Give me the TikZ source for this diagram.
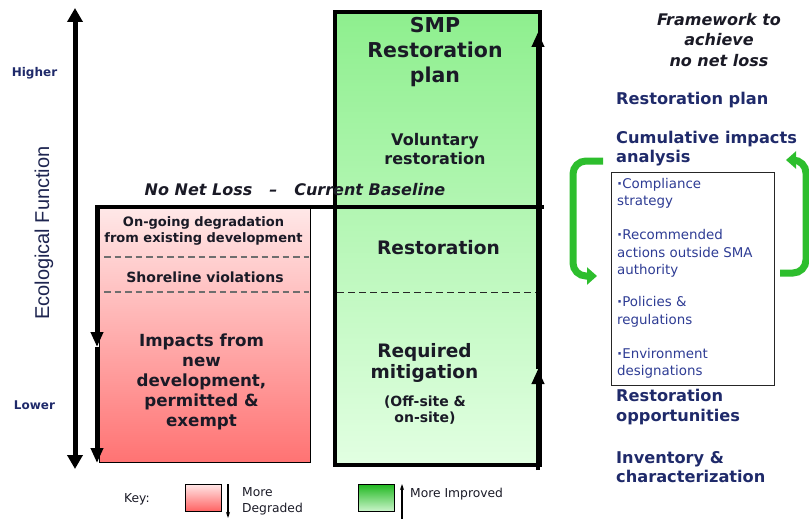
\documentclass[tikz,border=0pt]{standalone}
\usepackage{fontspec}
\setmainfont{DejaVu Sans}
\newfontfamily\axisfont{Liberation Sans}
\usetikzlibrary{arrows.meta}

\definecolor{ink}{HTML}{1A1A26}
\definecolor{navy}{HTML}{1F2A6A}
\definecolor{axisnavy}{HTML}{1E2550}
\definecolor{listblue}{HTML}{2E3C94}
\definecolor{loopgreen}{HTML}{2DBE2D}
\definecolor{dashgrey}{HTML}{6E6E6E}

\newcommand{\fs}[2]{\fontsize{#1}{#2}\selectfont}

\begin{document}
\begin{tikzpicture}[x=1pt,y=-1pt,
  boldtxt/.style={text=ink, font=\bfseries, align=center, inner sep=0pt},
  sidetxt/.style={text=navy, font=\bfseries\fs{16.2}{19.6}, align=left, anchor=west, inner sep=0pt},
  listtxt/.style={text=listblue, font=\fs{13.4}{17.5}, align=left, anchor=west, inner sep=0pt},
  keytxt/.style={text=ink, font=\fs{12.3}{16.5}, align=left, anchor=west, inner sep=0pt},
  heavy/.style={line width=4.6pt, black},
  edgetip/.style={-{Triangle[width=12pt,length=15pt]}},
  keytip/.style={-{Stealth[width=4pt,length=6pt]}},
  looparrow/.style={line width=7pt, loopgreen, rounded corners=13pt,
    -{Triangle[width=17pt,length=10pt]}},
  swatch/.style={draw=black, line width=0.9pt, minimum width=36pt, minimum height=27pt,
    anchor=north west, inner sep=0pt},
]
\useasboundingbox (0,0) rectangle (809,519);

% ---- degraded (red) column ----
\node[draw=black, line width=0.8pt, anchor=north west, inner sep=0pt,
      minimum width=211pt, minimum height=255pt,
      top color=red!9, middle color=red!28, bottom color=red!55!white]
      (redbox) at (99,207) {};
\draw[dashgrey, line width=1.1pt, dash pattern=on 6.5pt off 4pt]
  ([xshift=5pt]redbox.west |- 0,257) -- ([xshift=-2pt]redbox.east |- 0,257);
\draw[dashgrey, line width=1.1pt, dash pattern=on 6.5pt off 4pt]
  ([xshift=5pt]redbox.west |- 0,292) -- ([xshift=-2pt]redbox.east |- 0,292);

% ---- improved (green) column ----
\node[draw=black, line width=4.4pt, anchor=north west, inner sep=0pt,
      minimum width=205pt, minimum height=453pt,
      top color={rgb,255:red,142;green,239;blue,142},
      middle color={rgb,255:red,184;green,248;blue,184},
      bottom color={rgb,255:red,226;green,255;blue,226}]
      (greenbox) at (333,10) {};
\draw[black!85, line width=1pt, dash pattern=on 7pt off 4pt]
  ([xshift=4pt]greenbox.west |- 0,292) -- ([xshift=-6pt]greenbox.east |- 0,292);

% ---- baseline and edge arrows ----
\coordinate (baseL) at (redbox.north west);
\coordinate (baseR) at (greenbox.east |- redbox.north);
\draw[heavy] ([xshift=-2.3pt]baseL) -- ([xshift=2pt]baseR);

\coordinate (redmid) at (97,347);
\coordinate (redbot) at (97,463);
\draw[heavy, edgetip] (97,205) -- (redmid);
\draw[heavy, edgetip] (redmid) -- (redbot);

\coordinate (grnbot) at (538,470);
\coordinate (grnmid) at (538,369);
\coordinate (grntop) at (538,32);
\draw[heavy, edgetip] (grnbot) -- (grnmid);
\draw[heavy, edgetip] (grnmid) -- (grntop);

% ---- ecological function axis ----
\coordinate (axtop) at (75,8);
\coordinate (axbot) at (75,469);
\draw[line width=5pt, {Triangle[width=15pt,length=14pt]}-{Triangle[width=15pt,length=14pt]}]
  (axbot) -- (axtop);
\node[text=navy, font=\bfseries\fs{12}{14}, inner sep=0pt] (higher) at (34.5,73) {Higher};
\node[text=navy, font=\bfseries\fs{12}{14}, inner sep=0pt] (lower) at (34.5,405) {Lower};
\node[text=axisnavy, font=\axisfont\fs{20}{24}, rotate=90, inner sep=0pt] (axlabel) at (44,233)
  {Ecological Function};

% ---- column texts ----
\node[boldtxt, font=\bfseries\fs{13}{15.5}] (ongoing) at (203.5,231)
  {On-going degradation\\from existing development};
\node[boldtxt, font=\bfseries\fs{14}{16}] (violations) at (205,277) {Shoreline violations};
\node[boldtxt, font=\bfseries\fs{16.7}{20}] (impacts) at (201.5,382)
  {Impacts from\\new\\development,\\permitted \&\\exempt};

\node[boldtxt, font=\bfseries\fs{20.5}{25}] (smp) at (435,52) {SMP\\Restoration\\plan};
\node[boldtxt, font=\bfseries\fs{16}{18.5}] (voluntary) at (435,149) {Voluntary\\restoration};
\node[boldtxt, font=\bfseries\fs{18.6}{22}] (restoration) at (438.5,248) {Restoration};
\node[boldtxt, font=\bfseries\fs{18.5}{21.5}] (required) at (424.5,363) {Required\\mitigation};
\node[boldtxt, font=\bfseries\fs{14}{16.5}] (offsite) at (425,410) {(Off-site \&\\on-site)};

\node[boldtxt, font=\bfseries\itshape\fs{16}{18}] (nnl) at (295,190)
  {No Net Loss\hspace{17pt}–\hspace{17pt}Current Baseline};

% ---- framework column ----
\node[boldtxt, font=\bfseries\itshape\fs{16}{20.2}] (framework) at (719,40)
  {Framework to\\achieve\\no net loss};
\node[sidetxt] (restplan) at (616,100) {Restoration plan};
\node[sidetxt] (cumulative) at (616,148.5) {Cumulative impacts\\analysis};

\node[draw=black!85, line width=1pt, anchor=north west, inner sep=0pt,
      minimum width=163pt, minimum height=213pt] (listbox) at (611,172) {};
\node[listtxt] (compliance) at (617,193.5) {\textbf{·}Compliance\\strategy};
\node[listtxt] (recommended) at (617,253.5) {\textbf{·}Recommended\\actions outside SMA\\authority};
\node[listtxt] (policies) at (617,312) {\textbf{·}Policies \&\\regulations};
\node[listtxt] (environment) at (617,363.5) {\textbf{·}Environment\\designations};

\node[sidetxt] (opportunities) at (616,407) {Restoration\\opportunities};
\node[sidetxt] (inventory) at (616,467) {Inventory \&\\characterization};

% ---- feedback loops around the list ----
\coordinate (loopLa) at (603,161);
\coordinate (loopLb) at (573,161);
\coordinate (loopLc) at (573,276);
\coordinate (loopLd) at (597,276);
\draw[looparrow] (loopLa) -- (loopLb) -- (loopLc) -- (loopLd);
\coordinate (loopRa) at (780,273);
\coordinate (loopRb) at (806,273);
\coordinate (loopRc) at (806,160);
\coordinate (loopRd) at (786,160);
\draw[looparrow] (loopRa) -- (loopRb) -- (loopRc) -- (loopRd);

% ---- key ----
\node[keytxt] (key) at (124,499) {Key:};
\node[swatch, top color=red!10, bottom color=red!62!white] (keyred) at (185,484) {};
\coordinate (kdtop) at (228,484);
\coordinate (kdbot) at (228,518);
\draw[line width=1.1pt, keytip] (kdtop) -- (kdbot);
\node[keytxt] (degraded) at (242,501.5) {More\\Degraded};
\node[swatch, top color={rgb,255:red,34;green,184;blue,34},
      bottom color={rgb,255:red,204;green,245;blue,204}] (keygreen) at (358,484) {};
\coordinate (kutop) at (402,484);
\coordinate (kubot) at (402,519);
\draw[line width=1.1pt, keytip] (kubot) -- (kutop);
\node[keytxt] (improved) at (410,494) {More Improved};
\end{tikzpicture}
\end{document}
